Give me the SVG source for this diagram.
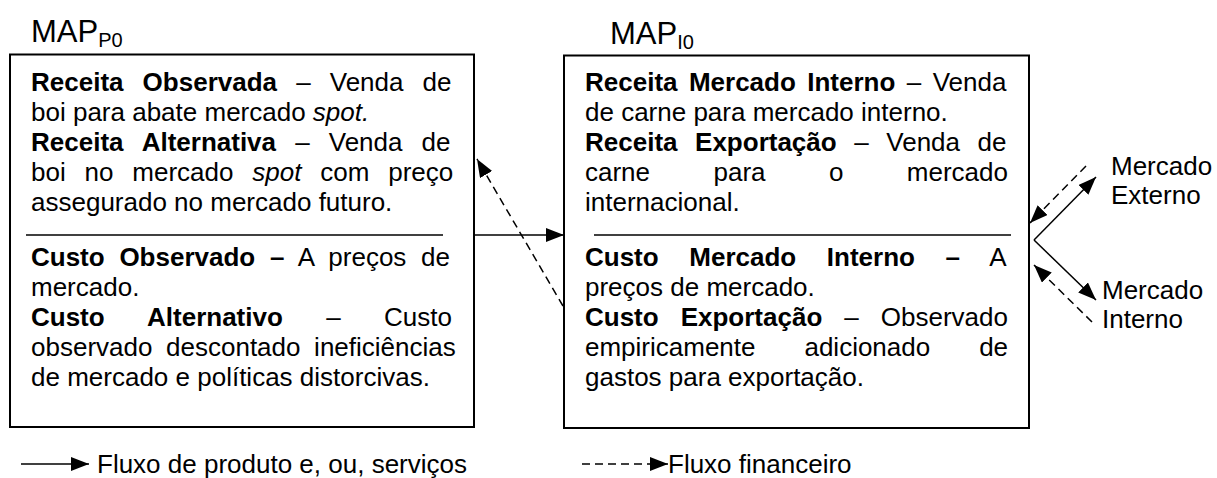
<svg xmlns="http://www.w3.org/2000/svg" width="1217" height="478" viewBox="0 0 1217 478">
<style>
text{font-family:"Liberation Sans",Arial,Helvetica,sans-serif;font-size:26px;fill:#000}
.b{font-weight:bold}
.i{font-style:italic}
.h{font-size:31px}
.sub{font-size:20px}
.box{fill:#fff;stroke:#000;stroke-width:2}
.div{stroke:#000;stroke-width:1.5}
.solid{fill:none;stroke:#000;stroke-width:1.5}
.dash{fill:none;stroke:#000;stroke-width:1.5;stroke-dasharray:8 5}
</style>
<defs>
<marker id="ah" markerUnits="userSpaceOnUse" markerWidth="20" markerHeight="16" refX="18" refY="7" orient="auto">
<path d="M0,0 L18,7 L0,14 z" fill="#000"/>
</marker>
</defs>
<rect width="1217" height="478" fill="#fff"/>

<g id="mapP0">
<text class="h" x="31" y="42">MAP<tspan class="sub" dy="5">P0</tspan></text>
<rect class="box" x="10" y="54.5" width="464" height="372.5"/>
<text x="31" y="91" word-spacing="11.9"><tspan class="b">Receita Observada</tspan> – Venda de</text>
<text x="31" y="121">boi para abate mercado <tspan class="i">spot.</tspan></text>
<text x="31" y="151" word-spacing="11.9"><tspan class="b">Receita Alternativa</tspan> – Venda de</text>
<text x="31" y="181" word-spacing="11.6">boi no mercado <tspan class="i">spot</tspan> com preço</text>
<text x="31" y="211">assegurado no mercado futuro.</text>
<line class="div" x1="26" y1="235" x2="443" y2="235"/>
<text x="31" y="266" word-spacing="7.5"><tspan class="b">Custo Observado –</tspan> A preços de</text>
<text x="31" y="296">mercado.</text>
<text x="31" y="326" word-spacing="36.1"><tspan class="b">Custo Alternativo</tspan> – Custo</text>
<text x="31" y="356" word-spacing="6.4">observado descontado ineficiências</text>
<text x="31" y="386">de mercado e políticas distorcivas.</text>
</g>

<g id="mapI0">
<text class="h" x="610" y="44">MAP<tspan class="sub" dy="5">I0</tspan></text>
<rect class="box" x="564" y="55.5" width="465" height="372.5"/>
<text x="585" y="91" word-spacing="4.2"><tspan class="b">Receita Mercado Interno</tspan> – Venda</text>
<text x="585" y="121">de carne para mercado interno.</text>
<text x="585" y="151" word-spacing="10.35"><tspan class="b">Receita Exportação</tspan> – Venda de</text>
<text x="585" y="181" word-spacing="56.2">carne para o mercado</text>
<text x="585" y="211">internacional.</text>
<line class="div" x1="594" y1="235" x2="1011" y2="235"/>
<text x="585" y="266" word-spacing="23.4"><tspan class="b">Custo Mercado Interno –</tspan> A</text>
<text x="585" y="296">preços de mercado.</text>
<text x="585" y="326" word-spacing="14.8"><tspan class="b">Custo Exportação</tspan> – Observado</text>
<text x="585" y="356" word-spacing="41.7">empiricamente adicionado de</text>
<text x="585" y="386">gastos para exportação.</text>
</g>

<g id="mercadoExterno">
<text x="1111" y="175">Mercado</text>
<text x="1111" y="204">Externo</text>
</g>

<g id="mercadoInterno">
<text x="1102" y="299">Mercado</text>
<text x="1102" y="328">Interno</text>
</g>

<g id="connectors">
<line class="solid" x1="474" y1="235" x2="564" y2="235" marker-end="url(#ah)"/>
<line class="dash" x1="563" y1="306" x2="477" y2="159" marker-end="url(#ah)"/>
<line class="solid" x1="1034" y1="240" x2="1096" y2="177" marker-end="url(#ah)"/>
<line class="solid" x1="1034" y1="240" x2="1096" y2="300" marker-end="url(#ah)"/>
<line class="dash" x1="1086" y1="166" x2="1030" y2="223" marker-end="url(#ah)"/>
<line class="dash" x1="1092" y1="322" x2="1034" y2="265" marker-end="url(#ah)"/>
</g>

<g id="legend">
<line class="solid" x1="21" y1="464" x2="89" y2="464" marker-end="url(#ah)"/>
<text x="97" y="473">Fluxo de produto e, ou, serviços</text>
<line class="dash" x1="582" y1="464" x2="668" y2="464" marker-end="url(#ah)"/>
<text x="668" y="473">Fluxo financeiro</text>
</g>
</svg>
